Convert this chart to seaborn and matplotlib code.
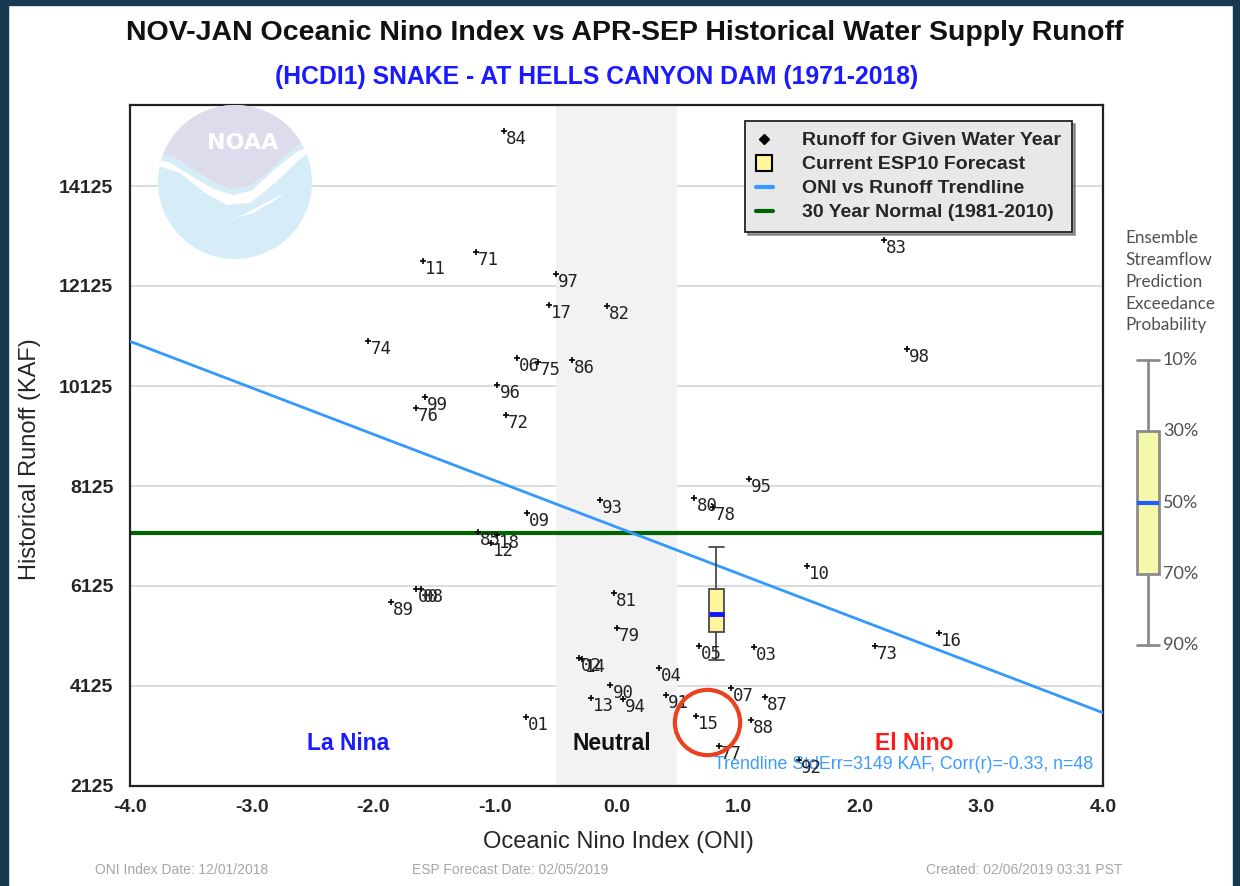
import numpy as np
import matplotlib
matplotlib.use("Agg")
import matplotlib.pyplot as plt
import matplotlib.transforms as mtransforms
from matplotlib.patches import Rectangle, Circle, Polygon
from matplotlib.lines import Line2D
from matplotlib.ticker import MultipleLocator, FixedLocator
import seaborn as sns

# ---- data -------------------------------------------------------------
years = ["71", "72", "73", "74", "75", "76", "77", "78", "79", "80",
         "81", "82", "83", "84", "85", "86", "87", "88", "89", "90",
         "91", "92", "93", "94", "95", "96", "97", "98", "99", "00",
         "01", "02", "03", "04", "05", "06", "07", "08", "09", "10",
         "11", "12", "13", "14", "15", "16", "17", "18"]
oni = [-1.155, -0.91, 2.125, -2.04, -0.645, -1.65, 0.84, 0.795, 0.0, 0.64,
       -0.02, -0.08, 2.20, -0.925, -1.14, -0.365, 1.22, 1.105, -1.855, -0.05,
       0.405, 1.50, -0.135, 0.05, 1.09, -0.98, -0.50, 2.39, -1.575, -1.65,
       -0.745, -0.31, 1.13, 0.35, 0.68, -0.82, 0.94, -1.61, -0.735, 1.565,
       -1.59, -1.03, -0.21, -0.28, 0.655, 2.65, -0.555, -0.98]
runoff = [12805, 9545, 4925, 11025, 10605, 9685, 2925, 7705, 5285, 7885,
          5985, 11725, 13045, 15225, 7205, 10645, 3905, 3445, 5805, 4145,
          3945, 2645, 7845, 3865, 8265, 10145, 12365, 10865, 9905, 6065,
          3505, 4685, 4905, 4485, 4925, 10685, 4085, 6065, 7585, 6525,
          12625, 6985, 3885, 4665, 3525, 5185, 11745, 7145]

normal_30yr = 7185          # KAF, 1981-2010
esp_oni = 0.82              # current ONI
esp_exceedance = [10, 30, 50, 70, 90]
esp_values = [6905, 6065, 5565, 5205, 4645]   # KAF at the exceedance levels
highlight_year = "15"

x_ticks = [-4.0, -3.0, -2.0, -1.0, 0.0, 1.0, 2.0, 3.0, 4.0]
y_ticks = [2125, 4125, 6125, 8125, 10125, 12125, 14125]

# ---- style ------------------------------------------------------------
sns.set_style("white")
plt.rcParams["font.family"] = ["Liberation Sans", "DejaVu Sans"]

W, H = 1240, 886
fig = plt.figure(figsize=(W / 100, H / 100), dpi=100)
fig.patch.set_facecolor("white")

NAVY = "#173a52"
for (x0, y0, w, h) in [(0, 0, 8, H), (W - 7, 0, 7, H), (0, H - 5, W, 5)]:
    fig.patches.append(Rectangle((x0 / W, y0 / H), w / W, h / H,
                                 transform=fig.transFigure, color=NAVY, zorder=0))

def fbox(l, t, r, b):
    return [l / W, 1 - b / H, (r - l) / W, (b - t) / H]

ax = fig.add_axes(fbox(130, 105, 1103, 786))
ax.set_xlim(-4, 4)
ax.set_ylim(2125, 15745)

# background: grid, neutral band
ax.set_axisbelow(True)
ax.yaxis.grid(True, which="major", color="#d9d9d9", lw=1.3, zorder=0.5)
ax.axvspan(-0.5, 0.5, color="#f2f2f2", lw=0, zorder=0.8)

# NOAA emblem in the top-left corner
logo = ax.inset_axes([(155 - 130) / 973, (786 - 265) / 681, 160 / 973, 160 / 681])
logo.set_xlim(0, 160)
logo.set_ylim(0, 160)
logo.axis("off")
logo.patch.set_alpha(0)
disc = Circle((80, 83), 77, color="#d6edf7", lw=0)
logo.add_patch(disc)
top = Polygon([(0, 112), (20, 108), (40, 95), (60, 82), (78, 76), (96, 80),
               (112, 92), (128, 108), (145, 122), (160, 130), (160, 160), (0, 160)],
              closed=True, color="#dcdcec", lw=0)
logo.add_patch(top)
top.set_clip_path(disc)
wing = Polygon([(0, 100), (25, 92), (50, 72), (72, 60), (95, 62), (120, 82),
                (145, 106), (160, 116), (160, 122), (140, 112), (118, 94),
                (96, 74), (78, 70), (58, 76), (38, 88), (15, 102), (0, 106)],
               closed=True, color="white", lw=0)
logo.add_patch(wing)
wing.set_clip_path(disc)
tail = Polygon([(70, 44), (98, 52), (122, 66), (130, 72), (110, 62), (88, 50)],
               closed=True, color="white", lw=0)
logo.add_patch(tail)
tail.set_clip_path(disc)
logo.text(88, 122, "NOAA", color="white", fontsize=16, fontweight="bold",
          ha="center", va="center", family="DejaVu Sans")

# 30-year normal
ax.axhline(normal_30yr, color="#006400", lw=3, zorder=2)

# ONI vs runoff trendline (least squares over all years)
sns.regplot(x=np.array(oni), y=np.array(runoff), scatter=False, ci=None,
            truncate=False, ax=ax,
            line_kws=dict(color="#3399ff", lw=2, zorder=3))
ax.set_xlim(-4, 4)
ax.set_ylim(2125, 15745)
ax.set_xlabel("")
ax.set_ylabel("")

# observed water years
sns.scatterplot(x=oni, y=runoff, marker="+", color="black", s=20,
                linewidth=1.2, ax=ax, zorder=5, legend=False)
for yr, xv, yv in zip(years, oni, runoff):
    ax.annotate(yr, (xv, yv), xytext=(1.5, -6), textcoords="offset points",
                family="DejaVu Sans Mono", fontsize=12.5, color="#222222",
                ha="left", va="center", zorder=6)

# current ESP forecast box
stats = [dict(whishi=esp_values[0], q3=esp_values[1], med=esp_values[2],
              q1=esp_values[3], whislo=esp_values[4], fliers=[])]
ax.bxp(stats, positions=[esp_oni], widths=0.12, capwidths=[0.12],
       patch_artist=True, showfliers=False, manage_ticks=False,
       boxprops=dict(facecolor="#fff59d", edgecolor="#4a4a4a", lw=1.3),
       whiskerprops=dict(color="#4a4a4a", lw=1.3),
       capprops=dict(color="#4a4a4a", lw=1.3),
       medianprops=dict(color="#1414ff", lw=3.5), zorder=4)

# highlighted year
hi = years.index(highlight_year)
ring_tr = mtransforms.offset_copy(ax.transData, fig=fig, x=8, y=-4.5, units="points")
ax.plot([oni[hi]], [runoff[hi]], marker="o", ms=47, mfc="none", mec="#ec4120",
        mew=3, transform=ring_tr, zorder=7, clip_on=False)

# ENSO phase labels
phase_kw = dict(fontsize=16.5, fontweight="bold", ha="center", va="center")
ax.text(-2.21, 2985, "La Nina", color="#1a1aff", **phase_kw)
ax.text(-0.04, 2985, "Neutral", color="#111111", **phase_kw)
ax.text(2.45, 2985, "El Nino", color="#ff1a1a", **phase_kw)
ax.text(0.99, 0.032, "Trendline StdErr=3149 KAF, Corr(r)=-0.33, n=48",
        transform=ax.transAxes, color="#3d9cff", fontsize=12.8, ha="right",
        va="center", zorder=5)

# axes, ticks
ax.xaxis.set_major_locator(FixedLocator(x_ticks))
ax.xaxis.set_minor_locator(MultipleLocator(0.5))
ax.yaxis.set_major_locator(FixedLocator(y_ticks))
ax.yaxis.set_minor_locator(FixedLocator(np.arange(3125, 15745, 1000)))
ax.set_xticklabels([f"{v:.1f}" for v in x_ticks])
ax.set_yticklabels([str(v) for v in y_ticks])
ax.tick_params(which="both", direction="in", color="black", width=1.2, length=7)
ax.tick_params(axis="x", pad=9)
ax.tick_params(axis="y", pad=12)
for lab in ax.get_xticklabels() + ax.get_yticklabels():
    lab.set_fontweight("bold")
    lab.set_fontsize(14)
for sp in ax.spines.values():
    sp.set_color("#222222")
    sp.set_linewidth(1.6)

fig.text(618 / W, 1 - 842 / H, "Oceanic Nino Index (ONI)", fontsize=17,
         ha="center", va="center")
fig.text(30 / W, 1 - 459 / H, "Historical Runoff (KAF)", fontsize=17,
         ha="center", va="center", rotation=90)

# legend
handles = [
    Line2D([], [], ls="none", marker="D", ms=5, color="black"),
    Line2D([], [], ls="none", marker="s", ms=11, mfc="#fff59d", mec="black", mew=1.5),
    Line2D([], [], color="#3399ff", lw=3),
    Line2D([], [], color="#006400", lw=3),
]
labels = ["Runoff for Given Water Year", "Current ESP10 Forecast",
          "ONI vs Runoff Trendline", "30 Year Normal (1981-2010)"]
leg = ax.legend(handles, labels, loc="upper left",
                bbox_to_anchor=((745 - 130) / 973, (786 - 121) / 681),
                borderaxespad=0,
                prop=dict(weight="bold", size=14), handlelength=0.9,
                handletextpad=1.5, labelspacing=0.33, borderpad=0.55,
                frameon=True, fancybox=False, shadow=True, facecolor="#e8e8e8",
                edgecolor="#222222", framealpha=1)
leg.get_frame().set_linewidth(1.3)
leg.set_zorder(10)

# titles
fig.text(625 / W, 1 - 33 / H, "NOV-JAN Oceanic Nino Index vs APR-SEP Historical Water Supply Runoff",
         ha="center", va="center", fontsize=20.5, fontweight="bold", color="#111111")
fig.text(597 / W, 1 - 77 / H, "(HCDI1) SNAKE - AT HELLS CANYON DAM (1971-2018)",
         ha="center", va="center", fontsize=17.8, fontweight="bold", color="#1a1aff")

# footer
foot = dict(fontsize=10, color="#a6a6a6", va="center")
fig.text(95 / W, 1 - 870 / H, "ONI Index Date: 12/01/2018", ha="left", **foot)
fig.text(510 / W, 1 - 870 / H, "ESP Forecast Date: 02/05/2019", ha="center", **foot)
fig.text(1122 / W, 1 - 870 / H, "Created: 02/06/2019 03:31 PST", ha="right", **foot)

# exceedance key on the right
fig.text(1125 / W, 1 - 230 / H,
         "Ensemble\nStreamflow\nPrediction\nExceedance\nProbability",
         ha="left", va="top", fontsize=12.3, color="#505050", family="Lato",
         linespacing=1.45)
key = fig.add_axes(fbox(1120, 350, 1215, 655))
key.set_xlim(0, 1)
key.set_ylim(92.8, 7.2)
key.axis("off")
kstats = [dict(whislo=esp_exceedance[0], q1=esp_exceedance[1], med=esp_exceedance[2],
               q3=esp_exceedance[3], whishi=esp_exceedance[4], fliers=[])]
key.bxp(kstats, positions=[0.295], widths=0.23, capwidths=[0.23],
        patch_artist=True, showfliers=False, manage_ticks=False,
        boxprops=dict(facecolor="#f5f8a8", edgecolor="#8c8c8c", lw=2),
        whiskerprops=dict(color="#8c8c8c", lw=2),
        capprops=dict(color="#8c8c8c", lw=2),
        medianprops=dict(color="#1f5cff", lw=3))
for p in esp_exceedance:
    key.text(0.45, p, f"{p}%", fontsize=13, color="#505050", family="Lato",
             ha="left", va="center")

fig.savefig("out.png", dpi=100)
